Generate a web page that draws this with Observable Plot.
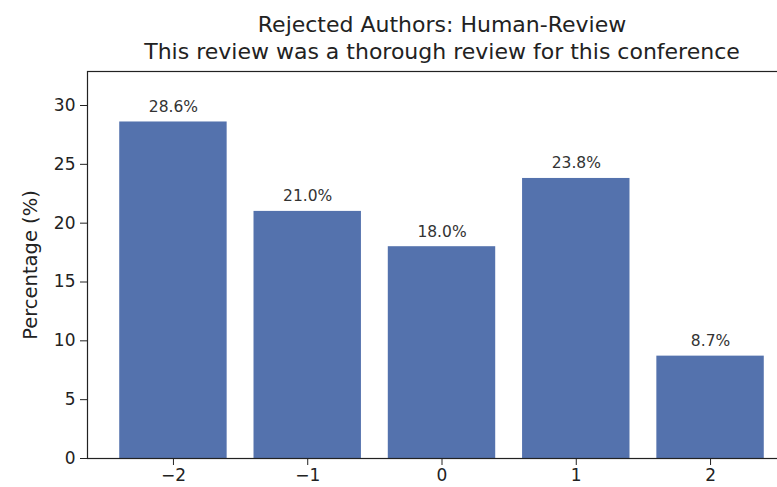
<!DOCTYPE html>
<html>
<head>
<meta charset="utf-8">
<script src="https://cdn.jsdelivr.net/npm/d3@7"></script>
<script src="https://cdn.jsdelivr.net/npm/@observablehq/plot@0.6"></script>
<style>
  html, body { margin: 0; padding: 0; background: #fff; }
  svg { font-family: "DejaVu Sans", sans-serif; }
</style>
</head>
<body>
<div id="chart"></div>
<script>
const categories = [-2, -1, 0, 1, 2];
const values = [28.6, 21.0, 18.0, 23.8, 8.7];
const yTicks = [0, 5, 10, 15, 20, 25, 30];
const titleLines = ["Rejected Authors: Human-Review", "This review was a thorough review for this conference"];
const yLabel = "Percentage (%)";

const data = categories.map((c, i) => ({cat: c, value: values[i], label: values[i].toFixed(1) + "%"}));
const barColor = "#5472ad";

const chart = Plot.plot({
  width: 777,
  height: 487,
  marginLeft: 87,
  marginRight: -19,
  marginTop: 71,
  marginBottom: 29,
  style: {fontFamily: "DejaVu Sans, sans-serif", fontSize: "17px", color: "#222", background: "#fff"},
  x: {type: "linear", domain: [-2.64, 2.64], ticks: categories, tickFormat: d => d < 0 ? "\u2212" + Math.abs(d) : String(d), tickSize: 7, tickPadding: 3, label: null},
  y: {domain: [0, 28.6 * 1.15], ticks: yTicks, tickSize: 7, tickPadding: 5, label: null},
  marks: [
    Plot.rectY(data, {x1: d => d.cat - 0.4, x2: d => d.cat + 0.4, y1: 0, y2: "value", fill: barColor}),
    Plot.text(data, {x: "cat", y: "value", text: "label", dy: -15, fontSize: 15.5, fill: "#333"}),
    Plot.frame({stroke: "#222", strokeWidth: 1.2}),
    Plot.text([titleLines[0]], {frameAnchor: "top", lineAnchor: "middle", dy: -47, fontSize: 22, fill: "#222"}),
    Plot.text([titleLines[1]], {frameAnchor: "top", lineAnchor: "middle", dy: -20, fontSize: 22, fill: "#222"}),
    Plot.text([yLabel], {frameAnchor: "left", textAnchor: "middle", lineAnchor: "middle", dx: -57, rotate: -90, fontSize: 19.5, fill: "#222"})
  ]
});
document.getElementById("chart").appendChild(chart);
</script>
</body>
</html>
